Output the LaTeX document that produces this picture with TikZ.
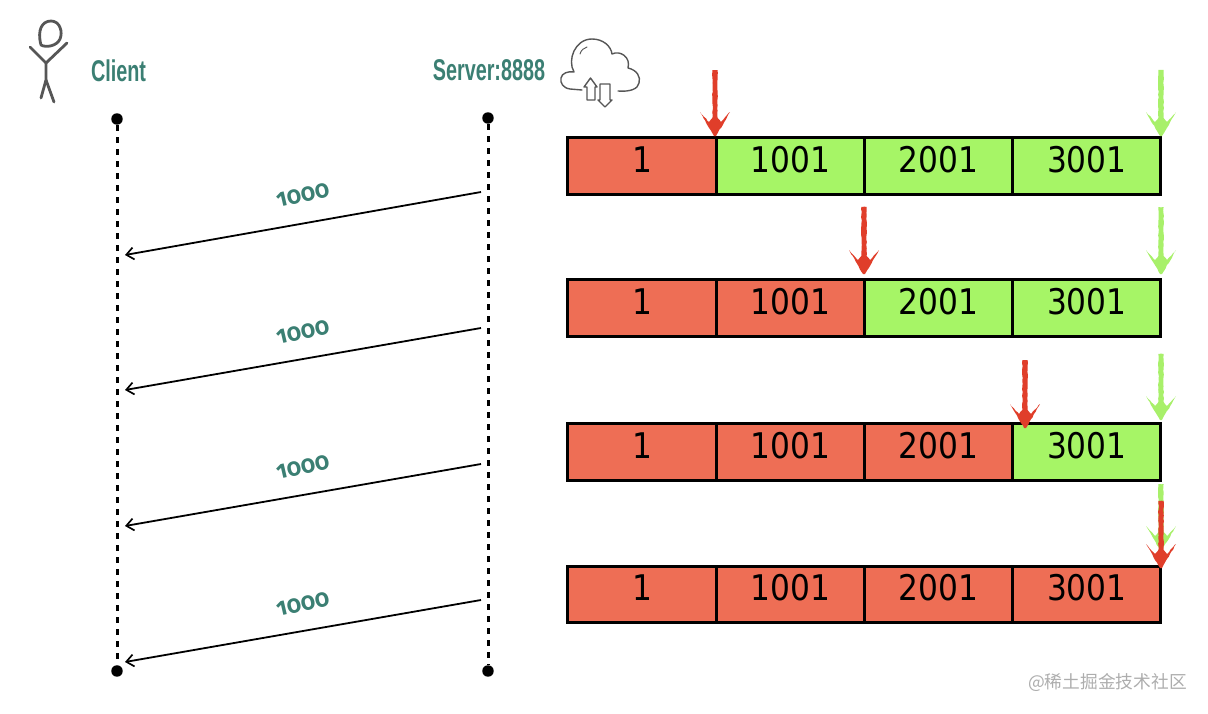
\documentclass[tikz,border=0pt]{standalone}
\usepackage{fontspec}
\usetikzlibrary{arrows.meta,decorations.pathmorphing}
\newfontfamily\headfont[FakeStretch=0.66]{Liberation Sans Bold}
\newfontfamily\cellfont[FakeStretch=0.885]{DejaVu Sans}
\newfontfamily\sizefont[Numbers=OldStyle,FakeStretch=0.93]{Fira Sans Bold}
\newfontfamily\cjkfont{Noto Sans CJK SC}
\definecolor{teal1}{HTML}{3B7F73}
\definecolor{redcell}{HTML}{EE6E55}
\definecolor{greencell}{HTML}{A6F566}
\definecolor{redmark}{HTML}{E03E2A}
\definecolor{greenmark}{HTML}{A8F06A}
\definecolor{sketch}{HTML}{565656}
\tikzset{
  cell/.style={draw=black,line width=2.25pt,minimum width=111.2pt,minimum height=42.2pt,inner sep=0pt},
  donecell/.style={cell,fill=redcell},
  opencell/.style={cell,fill=greencell},
  lifeline/.style={line width=2.25pt,dash pattern=on 4.8pt off 4.2pt},
  enddot/.style={circle,fill=black,inner sep=0pt,minimum size=8.6pt},
  segment/.style={line width=1.35pt,{Straight Barb[length=5.5pt,width=9pt,line width=1.25pt]}-},
  headlabel/.style={text=teal1,inner sep=0pt,font=\headfont\fontsize{22.5}{26}\selectfont},
  sizelabel/.style={text=teal1,inner sep=0pt,rotate=13,font=\sizefont\fontsize{18.5}{20}\selectfont},
  stick/.style={draw=sketch,line width=2.1pt,line cap=round,line join=round},
  cloudline/.style={draw=sketch,line width=1.05pt,line cap=round,line join=round},
  rough/.style={decorate,decoration={random steps,segment length=2.2pt,amplitude=0.3pt}},
}
% hand-drawn marker: colour, x, top of shaft, tip
\newcommand{\sketchmark}[4]{%
  \fill[#1,rough] (#2-2.6,#3) -- (#2+2.6,#3) -- (#2+2.6,#4-18) -- (#2+6,#4-14) -- (#2+15,#4-24)
    -- (#2+1,#4) -- (#2-1,#4) -- (#2-15,#4-24) -- (#2-6,#4-14) -- (#2-2.6,#4-18) -- cycle;
}
% one row of four buffer cells: row name, centre y, number of sent cells
\newcommand{\bufferrow}[3]{%
  \foreach \i/\t/\cx in {1/1/642,2/1001/790.3,3/2001/938.5,4/3001/1086.8}{
    \ifnum\i>#3 \def\cellstyle{opencell}\else\def\cellstyle{donecell}\fi
    \node[\cellstyle] (#1-\i) at (\cx,#2)
      {\raisebox{-4.5pt}[0pt][0pt]{\cellfont\fontsize{26.5}{30}\selectfont\t}};
  }
}
\begin{document}
\begin{tikzpicture}[x=0.75pt,y=-0.75pt]
\useasboundingbox (0,0) rectangle (1208,714);

% stick figure
\draw[stick] (41,45) .. controls (37,30) and (42,21) .. (51,21)
  .. controls (60,21) and (63,32) .. (60,39) .. controls (57,46) and (46,48) .. (41,45);
\draw[stick] (30,47) -- (46,63) -- (67,43);
\draw[stick] (46,63) -- (46,80) -- (41,98);
\draw[stick] (46,80) -- (54,102);

% cloud with transfer arrows
\draw[cloudline] (582,90) -- (570,89) .. controls (563,88) and (560,83) .. (561,78)
  .. controls (562,73) and (568,71) .. (574,72) .. controls (567,60) and (575,39) .. (592,39)
  .. controls (603,39) and (611,46) .. (612,54) .. controls (620,50) and (631,57) .. (628,68)
  .. controls (637,70) and (641,77) .. (639,83) .. controls (638,89) and (630,92) .. (618,91);
\draw[cloudline,line width=0.7pt] (580,54) .. controls (581,50) and (584,48) .. (587,47);
\draw[cloudline] (590.5,78) -- (597,87) -- (595,87) -- (595,100) -- (587,100) -- (587,87) -- (584,87) -- cycle;
\draw[cloudline] (605,107) -- (612,100) -- (610,100) -- (610,84) -- (600,84) -- (600,100) -- (598,100) -- cycle;

% headings
\node[headlabel] (client) at (118.5,71) {Client};
\node[headlabel] (server) at (489,70) {Server:8888};

% lifelines
\node[enddot] (ctop) at (117,119) {};
\node[enddot] (cbot) at (117,671) {};
\node[enddot] (stop) at (488,118) {};
\node[enddot] (sbot) at (488,671) {};
\draw[lifeline] (ctop) -- (cbot);
\draw[lifeline] (stop) -- (sbot);

% data segments from server to client
\foreach \k/\ys/\yc/\yl in {a/192/255/195,b/328/390/332,c/464/526/467,d/600/662/604}{
  \coordinate (from-\k) at (481,\ys);
  \coordinate (to-\k) at (125,\yc);
  \draw[segment] (to-\k) -- (from-\k);
  \node[sizelabel] (size-\k) at (303,\yl) {1000};
}

% send buffer rows
\bufferrow{one}{166}{1}
\bufferrow{two}{308}{2}
\bufferrow{three}{452}{3}
\bufferrow{four}{594.5}{4}

% position markers above the rows
\sketchmark{redmark}{715}{70}{136}
\sketchmark{greenmark}{1161}{70}{136}
\sketchmark{redmark}{864}{207}{274}
\sketchmark{greenmark}{1161}{207}{274}
\sketchmark{redmark}{1025}{360}{428}
\sketchmark{greenmark}{1161}{354}{420}
\sketchmark{greenmark}{1161}{484}{550}
\sketchmark{redmark}{1161}{501}{568}

% site mark
\node[text=black!32,inner sep=0pt,font=\cjkfont\fontsize{13.3}{16}\selectfont] (mark) at (1107.5,683) {@稀土掘金技术社区};
\end{tikzpicture}
\end{document}
